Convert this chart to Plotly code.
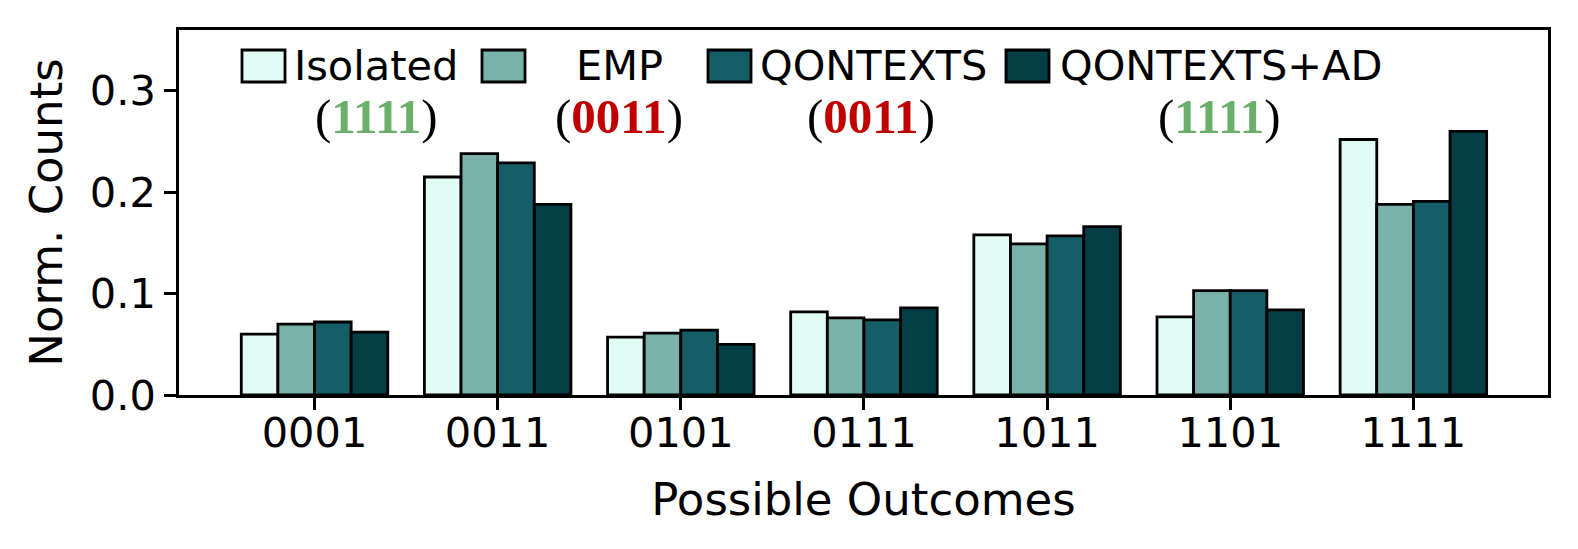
import plotly.graph_objects as go

categories = ["0001", "0011", "0101", "0111", "1011", "1101", "1111"]
series_names = ["Isolated", "EMP", "QONTEXTS", "QONTEXTS+AD"]
isolated = [0.060, 0.215, 0.057, 0.082, 0.158, 0.077, 0.252]
emp = [0.070, 0.238, 0.061, 0.076, 0.149, 0.103, 0.188]
qontexts = [0.072, 0.229, 0.064, 0.074, 0.157, 0.103, 0.191]
qontexts_ad = [0.062, 0.188, 0.050, 0.086, 0.166, 0.084, 0.260]
series_values = [isolated, emp, qontexts, qontexts_ad]
colors = ["#e0fcf4", "#79b1ab", "#155e67", "#033d45"]
best_outcomes = ["1111", "0011", "0011", "1111"]
outcome_colors = ["#6ab06a", "#c00000", "#c00000", "#6ab06a"]
y_ticks = [0.0, 0.1, 0.2, 0.3]

# page body has an 8px margin: size the figure so the page is exactly 1578x549
OFF = 8
W, H = 1578 - 2 * OFF, 549 - 2 * OFF
# target plot-area edges in page pixels
L, R, T, B = 179, 1548, 30, 395


def px_x(p):
    return (p - L) / (R - L)


def px_y(p):
    return (B - p) / (B - T)


fig = go.Figure()
for name, vals, col in zip(series_names, series_values, colors):
    fig.add_trace(go.Bar(
        x=categories, y=vals, name=name,
        marker=dict(color=col, line=dict(color="black", width=2.8)),
        showlegend=False,
    ))

# Manual legend (two-line centered labels, like the reference)
swatch_x = [(242, 285), (482, 525), (708, 751), (1006, 1049)]
line1_cx = [376, 619, 873, 1221]
line2_cx = [376, 619, 871, 1219]
shapes = []
annotations = []
for i, name in enumerate(series_names):
    x0, x1 = swatch_x[i]
    shapes.append(dict(
        type="rect", xref="paper", yref="paper",
        x0=px_x(x0), x1=px_x(x1), y0=px_y(82), y1=px_y(50),
        fillcolor=colors[i], line=dict(color="black", width=2.8), layer="above",
    ))
    annotations.append(dict(
        xref="paper", yref="paper", x=px_x(line1_cx[i]), y=px_y(65.5),
        text=name, showarrow=False, xanchor="center", yanchor="middle",
        font=dict(family="DejaVu Sans", size=41.5, color="black"),
    ))
    annotations.append(dict(
        xref="paper", yref="paper", x=px_x(line2_cx[i]), y=px_y(116),
        text="(<b><span style='color:%s'>%s</span></b>)" % (outcome_colors[i], best_outcomes[i]),
        showarrow=False, xanchor="center", yanchor="middle",
        font=dict(family="Liberation Serif", size=49, color="black"),
    ))

fig.update_layout(
    width=W, height=H,
    margin=dict(l=L - OFF, r=W - (R - OFF), t=T - OFF, b=H - (B - OFF), pad=0),
    paper_bgcolor="white", plot_bgcolor="white",
    barmode="group", bargap=0.2, bargroupgap=0,
    shapes=shapes, annotations=annotations,
    font=dict(family="DejaVu Sans", color="black"),
)
fig.update_xaxes(
    range=[-0.74, 6.735], showline=True, mirror=True, linecolor="black", linewidth=2.8,
    ticks="outside", ticklen=12, tickwidth=2.8, tickcolor="black",
    tickfont=dict(family="DejaVu Sans", size=41.5, color="black"),
    ticklabelstandoff=-13,
    title=dict(text="Possible Outcomes", font=dict(family="DejaVu Sans", size=45, color="black"), standoff=28),
    showgrid=False, zeroline=False,
)
fig.update_yaxes(
    range=[0, 0.36], showline=True, mirror=True, linecolor="black", linewidth=2.8,
    tickvals=y_ticks, ticktext=["%.1f" % v for v in y_ticks],
    ticks="outside", ticklen=12, tickwidth=2.8, tickcolor="black",
    tickfont=dict(family="DejaVu Sans", size=41.5, color="black"),
    title=dict(text="Norm. Counts", font=dict(family="DejaVu Sans", size=45, color="black"), standoff=14),
    showgrid=False, zeroline=False,
)

fig.write_html("out.html")
